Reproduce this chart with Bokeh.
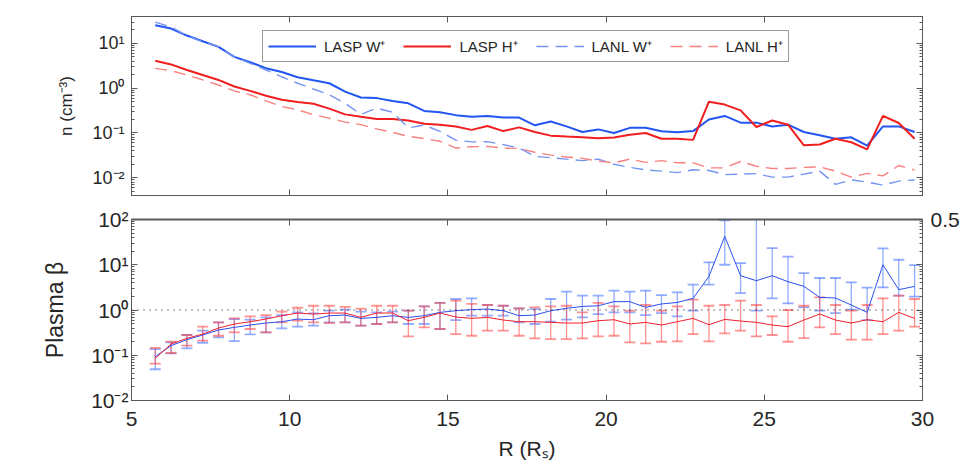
from bokeh.plotting import figure
from bokeh.models import (ColumnDataSource, Whisker, TeeHead, Legend, LegendItem,
                          LinearAxis, LogAxis, FixedTicker, Span, Range1d)
from bokeh.layouts import column
from bokeh.embed import file_html
from bokeh.resources import INLINE

# ---------------- data ----------------
r = [5.75, 6.25, 6.75, 7.25, 7.75, 8.25, 8.75, 9.25, 9.75, 10.25, 10.75, 11.25, 11.75,
     12.25, 12.75, 13.25, 13.75, 14.25, 14.75, 15.25, 15.75, 16.25, 16.75, 17.25, 17.75,
     18.25, 18.75, 19.25, 19.75, 20.25, 20.75, 21.25, 21.75, 22.25, 22.75, 23.25, 23.75,
     24.25, 24.75, 25.25, 25.75, 26.25, 26.75, 27.25, 27.75, 28.25, 28.75, 29.25, 29.75]

lasp_w = [25.5, 21.5, 15, 11.2, 8.4, 5.0, 3.8, 2.8, 2.3, 1.76, 1.5, 1.29, 0.84, 0.62, 0.60,
          0.52, 0.46, 0.31, 0.29, 0.25, 0.23, 0.24, 0.22, 0.22, 0.148, 0.18, 0.14, 0.105,
          0.12, 0.10, 0.13, 0.13, 0.109, 0.103, 0.11, 0.20, 0.24, 0.17, 0.17, 0.14, 0.153,
          0.105, 0.089, 0.074, 0.080, 0.052, 0.14, 0.14, 0.105]
lasp_h = [4.1, 3.4, 2.55, 1.97, 1.53, 1.09, 0.87, 0.68, 0.55, 0.49, 0.45, 0.35, 0.26, 0.23,
          0.205, 0.205, 0.19, 0.16, 0.153, 0.14, 0.117, 0.143, 0.11, 0.133, 0.105, 0.087,
          0.083, 0.080, 0.076, 0.079, 0.091, 0.10, 0.074, 0.074, 0.07, 0.50, 0.43, 0.32,
          0.136, 0.19, 0.153, 0.053, 0.055, 0.074, 0.062, 0.043, 0.24, 0.167, 0.074]
lanl_w = [30, 23.4, 15, 11, 8.4, 5.0, 3.6, 2.55, 1.8, 1.29, 0.96, 0.71, 0.46, 0.26, 0.36,
          0.29, 0.13, 0.15, 0.108, 0.069, 0.063, 0.064, 0.055, 0.046, 0.030, 0.028, 0.026,
          0.024, 0.026, 0.020, 0.017, 0.015, 0.014, 0.013, 0.015, 0.0145, 0.0117, 0.012,
          0.0123, 0.0103, 0.0103, 0.012, 0.014, 0.0071, 0.0089, 0.008, 0.0068, 0.0084, 0.0089]
lanl_h = [2.78, 2.46, 1.97, 1.53, 1.18, 0.87, 0.71, 0.52, 0.39, 0.33, 0.255, 0.215, 0.175,
          0.153, 0.123, 0.103, 0.084, 0.075, 0.065, 0.046, 0.049, 0.05, 0.046, 0.045, 0.037,
          0.032, 0.029, 0.027, 0.0235, 0.0215, 0.026, 0.022, 0.024, 0.0215, 0.0215, 0.0166,
          0.0166, 0.023, 0.018, 0.016, 0.016, 0.017, 0.0175, 0.014, 0.0103, 0.0125, 0.011,
          0.0187, 0.0148]

beta_w = [0.093, 0.163, 0.221, 0.280, 0.361, 0.413, 0.465, 0.515, 0.551, 0.631, 0.610, 0.748,
          0.774, 0.653, 0.687, 0.748, 0.687, 0.748, 0.886, 0.965, 1.02, 1.05, 0.965, 0.748,
          0.774, 0.965, 1.09, 1.20, 1.24, 1.53, 1.53, 1.14, 1.36, 1.47, 1.81, 5.53, 42.4,
          5.73, 4.44, 5.73, 4.22, 3.33, 1.90, 1.84, 1.29, 0.886, 10.0, 2.81, 3.33]
beta_w_hi = [0.137, 0.193, 0.280, 0.349, 0.533, 0.631, 0.610, 0.687, 0.774, 0.886, 0.842,
             0.965, 1.02, 0.917, 0.886, 0.917, 0.965, 1.20, 1.43, 1.75, 1.81, 1.29, 1.24,
             1.09, 1.05, 1.75, 2.54, 2.07, 2.07, 2.67, 2.54, 2.67, 2.14, 2.45, 3.62, 11.3,
             95.7, 10.9, 110, 23.4, 15.1, 6.56, 5.09, 5.09, 4.08, 3.11, 23.0, 12.9, 9.86]
beta_w_lo = [0.049, 0.110, 0.142, 0.189, 0.248, 0.206, 0.289, 0.320, 0.393, 0.428, 0.450,
             0.533, 0.533, 0.450, 0.490, 0.533, 0.490, 0.490, 0.380, 0.600, 0.748, 0.748,
             0.748, 0.533, 0.490, 0.551, 0.610, 0.687, 0.814, 0.886, 0.886, 0.774, 0.857,
             0.723, 0.965, 3.62, 10.0, 2.37, 0.965, 1.81, 1.40, 1.14, 0.965, 0.857, 1.02,
             0.600, 3.16, 2.07, 1.97]

beta_h = [0.085, 0.177, 0.236, 0.294, 0.399, 0.490, 0.551, 0.631, 0.748, 0.857, 0.814, 0.857,
          0.857, 0.687, 0.857, 0.857, 0.580, 0.687, 0.857, 0.700, 0.653, 0.687, 0.600, 0.551,
          0.551, 0.533, 0.515, 0.515, 0.580, 0.610, 0.490, 0.533, 0.465, 0.551, 0.653, 0.473,
          0.621, 0.570, 0.533, 0.465, 0.428, 0.600, 0.814, 0.600, 0.515, 0.610, 0.551, 0.886,
          0.653]
beta_h_hi = [0.145, 0.200, 0.280, 0.428, 0.533, 0.653, 0.723, 0.774, 0.917, 1.12, 1.24, 1.24,
             1.17, 1.07, 1.24, 1.24, 0.965, 1.20, 1.43, 1.61, 1.36, 1.29, 1.24, 1.09, 1.14,
             1.20, 1.24, 0.886, 1.43, 1.20, 0.965, 1.29, 0.965, 1.20, 1.69, 1.24, 1.29, 1.61,
             1.29, 0.723, 1.00, 1.24, 1.90, 1.29, 0.965, 1.29, 1.81, 2.07, 1.75]
beta_h_lo = [0.065, 0.112, 0.163, 0.210, 0.270, 0.320, 0.380, 0.320, 0.533, 0.580, 0.533,
             0.515, 0.533, 0.450, 0.490, 0.533, 0.261, 0.413, 0.380, 0.294, 0.270, 0.349,
             0.349, 0.270, 0.236, 0.228, 0.228, 0.236, 0.261, 0.270, 0.193, 0.183, 0.199,
             0.203, 0.294, 0.203, 0.304, 0.349, 0.261, 0.280, 0.199, 0.240, 0.413, 0.294,
             0.221, 0.221, 0.294, 0.349, 0.428]

x_ticks = [5, 10, 15, 20, 25, 30]
top_y_ticks = [0.01, 0.1, 1, 10]
top_y_labels = ["10\u207b\u00b2", "10\u207b\u00b9", "10\u2070", "10\u00b9"]
bot_y_ticks = [0.01, 0.1, 1, 10, 100]
bot_y_labels = ["10\u207b\u00b2", "10\u207b\u00b9", "10\u2070", "10\u00b9", "10\u00b2"]
legend_labels = ["LASP W\u207a", "LASP H\u207a", "LANL W\u207a", "LANL H\u207a"]
side_tick = [100]
side_text = ["0.5"]

# ---------------- style ----------------
FONT = "Liberation Sans"
TXT = "#262626"
AXC = "#5a5a5a"
BLUE = "#2255f2"
RED = "#f01e1e"
LBLUE = "#7595f2"
LRED = "#f88080"


def minor_log(lo_exp, hi_exp, vmin, vmax):
    out = []
    for e in range(lo_exp, hi_exp + 1):
        for m in range(2, 10):
            v = m * 10.0 ** e
            if vmin <= v <= vmax:
                out.append(v)
    return out


def style(ax, size, labels=True, minor=True):
    ax.axis_line_color = AXC
    ax.major_tick_line_color = AXC
    ax.minor_tick_line_color = AXC if minor else None
    ax.major_tick_in = 6
    ax.major_tick_out = 0
    ax.minor_tick_in = 3
    ax.minor_tick_out = 0
    ax.major_label_text_font = FONT
    ax.major_label_text_color = TXT
    ax.axis_label_text_font = FONT
    ax.axis_label_text_color = TXT
    ax.axis_label_text_font_style = "normal"
    if labels:
        ax.major_label_text_font_size = size
    else:
        ax.major_label_text_font_size = "2px"
        ax.major_label_text_color = None
        ax.major_label_standoff = 0


def make_fig(h, yr, top_b, bot_b):
    p = figure(width=979, height=h, x_range=Range1d(5, 30), y_range=yr,
               y_axis_type="log", output_backend="svg", toolbar_location=None,
               min_border_left=131, min_border_right=57,
               min_border_top=top_b, min_border_bottom=bot_b)
    p.grid.visible = False
    p.outline_line_color = AXC
    p.background_fill_color = "white"
    p.border_fill_color = "white"
    return p


# ---------------- top panel ----------------
top = make_fig(200, Range1d(0.004, 40), 16, 5)
tminor = minor_log(-3, 1, 0.004, 40)
for ax in top.xaxis:
    ax.ticker = FixedTicker(ticks=x_ticks)
    style(ax, "2px", labels=False, minor=False)
for ax in top.yaxis:
    ax.ticker = FixedTicker(ticks=top_y_ticks, minor_ticks=tminor)
    ax.major_label_overrides = dict(zip(top_y_ticks, top_y_labels))
    style(ax, "18px")
    ax.axis_label = "n (cm\u207b\u00b3)"
    ax.axis_label_text_font_size = "17px"
    ax.major_label_standoff = 7
    ax.axis_label_standoff = 13
ax_t = LinearAxis(ticker=FixedTicker(ticks=x_ticks))
style(ax_t, "2px", labels=False, minor=False)
top.add_layout(ax_t, "above")
ax_r = LogAxis(ticker=FixedTicker(ticks=top_y_ticks, minor_ticks=tminor))
style(ax_r, "2px", labels=False)
top.add_layout(ax_r, "right")

l1 = top.line(r, lasp_w, line_color=BLUE, line_width=2)
l2 = top.line(r, lasp_h, line_color=RED, line_width=2)
l3 = top.line(r, lanl_w, line_color=LBLUE, line_width=1.4, line_dash="12 7")
l4 = top.line(r, lanl_h, line_color=LRED, line_width=1.4, line_dash="12 7")

legend = Legend(items=[LegendItem(label=lab, renderers=[rr]) for lab, rr in
                       zip(legend_labels, [l1, l2, l3, l4])],
                orientation="horizontal", location=(131, 133))
legend.label_text_font = FONT
legend.label_text_font_size = "15px"
legend.label_text_color = TXT
legend.glyph_width = 48
legend.label_standoff = 8
legend.spacing = 18
legend.padding = 5
legend.margin = 0
legend.border_line_color = "#333333"
legend.border_line_width = 1
legend.background_fill_color = "white"
legend.background_fill_alpha = 1
top.add_layout(legend, "center")

# ---------------- bottom panel ----------------
bot = make_fig(273, Range1d(0.01, 100), 19, 73)
bminor = minor_log(-2, 1, 0.01, 100)
for ax in bot.xaxis:
    ax.ticker = FixedTicker(ticks=x_ticks)
    style(ax, "21px", minor=False)
    ax.axis_label = "R (R\u209b)"
    ax.axis_label_text_font_size = "21px"
    ax.major_label_standoff = 11
    ax.axis_label_standoff = 8
for ax in bot.yaxis:
    ax.ticker = FixedTicker(ticks=bot_y_ticks, minor_ticks=bminor)
    ax.major_label_overrides = dict(zip(bot_y_ticks, bot_y_labels))
    style(ax, "21px")
    ax.axis_label = "Plasma \u03b2"
    ax.axis_label_text_font_size = "23px"
    ax.major_label_standoff = 3
    ax.axis_label_standoff = 20
ax_t2 = LinearAxis(ticker=FixedTicker(ticks=x_ticks))
style(ax_t2, "2px", labels=False, minor=False)
ax_t2.axis_line_width = 2
bot.add_layout(ax_t2, "above")
ax_r2 = LogAxis(ticker=FixedTicker(ticks=bot_y_ticks, minor_ticks=bminor))
style(ax_r2, "2px", labels=False)
bot.add_layout(ax_r2, "right")
# stray text at the right edge of the bottom panel
ax_r3 = LogAxis(ticker=FixedTicker(ticks=side_tick))
style(ax_r3, "21px", minor=False)
ax_r3.major_label_overrides = dict(zip(side_tick, side_text))
ax_r3.axis_line_color = None
ax_r3.major_tick_line_color = None
ax_r3.major_label_standoff = 8
bot.add_layout(ax_r3, "right")

bot.add_layout(Span(location=1, dimension="width", line_color="black",
                    line_width=1, line_dash="1 5"))

src_w = ColumnDataSource(dict(x=r, y=beta_w, hi=beta_w_hi, lo=beta_w_lo))
src_h = ColumnDataSource(dict(x=r, y=beta_h, hi=beta_h_hi, lo=beta_h_lo))

for src, col in ((src_w, "#4a74ff"), (src_h, "#ff4a4a")):
    w = Whisker(source=src, base="x", upper="hi", lower="lo", dimension="height",
                line_color=col, line_alpha=0.6, line_width=1.3,
                upper_head=TeeHead(size=11, line_color=col, line_alpha=0.6, line_width=1.8),
                lower_head=TeeHead(size=11, line_color=col, line_alpha=0.6, line_width=1.8))
    bot.add_layout(w)

bot.line("x", "y", source=src_w, line_color="#2b4ff0", line_width=1)
bot.line("x", "y", source=src_h, line_color="#f02030", line_width=1)

layout = column(top, bot, spacing=0)
open("out.html", "w").write(file_html(layout, INLINE))
